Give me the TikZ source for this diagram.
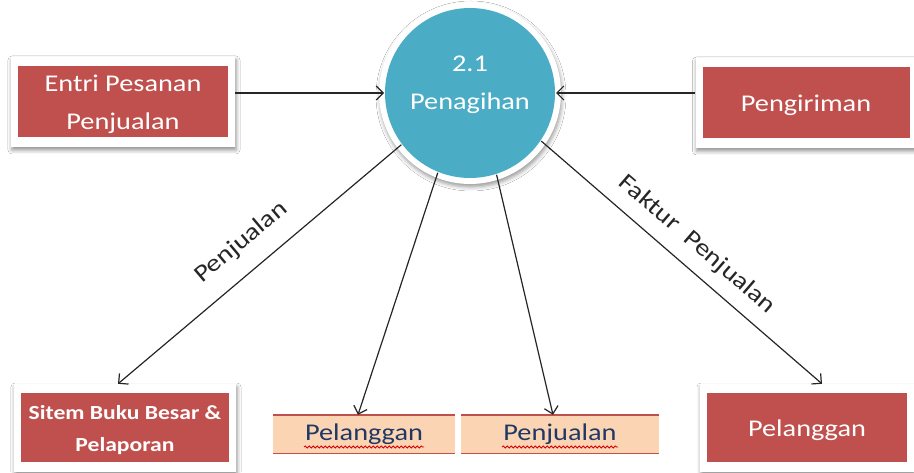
\documentclass[tikz,border=0pt]{standalone}
\usepackage{fontspec}
\setmainfont[FakeStretch=1.18]{Carlito}
\usepackage{xcolor}
\usetikzlibrary{arrows.meta,shadows.blur,decorations.pathmorphing}
\definecolor{entred}{HTML}{C0504D}
\definecolor{procblue}{HTML}{4BACC6}
\definecolor{peach}{HTML}{FBD4B4}
\definecolor{navy}{HTML}{1F3864}

\begin{document}
\begin{tikzpicture}[x=1pt,y=1pt]%
  \tikzstyle{card}=[rectangle,fill=white,inner sep=0,text=white,align=center,
    font=\fontsize{24}{38}\selectfont,text depth=0pt,
    blur shadow={shadow xshift=1pt,shadow yshift=-3pt,shadow blur radius=4pt,shadow opacity=45},
    path picture={\fill[entred] ([shift={(7pt,10pt)}]path picture bounding box.south west)
      rectangle ([shift={(-7pt,-9pt)}]path picture bounding box.north east);}]
  \tikzstyle{proc}=[circle,fill=white,minimum size=182,inner sep=0,outer sep=-5pt,
    text=white,align=center,font=\fontsize{24}{38}\selectfont,text depth=20pt,
    blur shadow={shadow xshift=1pt,shadow yshift=-3pt,shadow blur radius=4pt,shadow opacity=40},
    path picture={\fill[procblue] (path picture bounding box.center) circle (85pt);}]
  \tikzstyle{stor}=[rectangle,fill=peach,minimum height=38,inner sep=0,text=navy,
    font=\fontsize{24}{28}\selectfont]
  \tikzstyle{storln}=[entred,line width=1.4pt]
  \tikzstyle{wavy}=[red!85!black,line width=.8pt,decorate,
    decoration={snake,amplitude=1.1pt,segment length=4pt}]
  \tikzstyle{flow}=[black!85,line width=1.2pt,-{Straight Barb[length=7pt,width=14pt]}]
  \tikzstyle{lbl}=[text=black!85,font=\fontsize{24}{28}\selectfont]
  \fill[white] (0,0) rectangle (914,472);
  \useasboundingbox (0,0) rectangle (914,472);
  \node(pen)[proc] at (470,379) {2.1\\Penagihan};
  \node(entri)[card,minimum width=224,minimum height=90,text depth=-7pt] at (123,370) {Entri Pesanan\\Penjualan};
  \node(kirim)[card,minimum width=221,minimum height=90] at (806,369) {Pengiriman};
  \node(sitem)[card,minimum width=222,minimum height=88,text depth=-7pt,
    font=\bfseries\fontsize{20}{32}\selectfont] at (125,44) {Sitem Buku Besar \&\\Pelaporan};
  \node(plg)[card,minimum width=214,minimum height=88] at (807,44) {Pelanggan};
  \node(pel)[stor,minimum width=182] at (364,38) {Pelanggan};
  \node(pjl)[stor,minimum width=198] at (560,38) {Penjualan};
  \draw[storln] (pel.north west) -- (pel.north east) (pel.south west) -- (pel.south east);
  \draw[storln] (pjl.north west) -- (pjl.north east) (pjl.south west) -- (pjl.south east);
  \draw[wavy] ([xshift=-60pt,yshift=-13pt]pel.center) -- ([xshift=60pt,yshift=-13pt]pel.center);
  \draw[wavy] ([xshift=-58pt,yshift=-13pt]pjl.center) -- ([xshift=58pt,yshift=-13pt]pjl.center);
  \draw[flow] (entri.east |- pen) -- (pen);
  \draw[flow] (kirim.west |- pen) -- (pen);
  \draw[flow] (pen.217) -- ([xshift=-7pt]sitem.north)
    node[lbl,midway,sloped,above=14pt]{Penjualan};
  \draw[flow] (pen.248) -- ([xshift=-6pt]pel.north);
  \draw[flow] (pen.288) -- ([xshift=-7pt]pjl.north);
  \draw[flow] (pen.326) -- ([xshift=15pt]plg.north)
    node[lbl,midway,sloped,above=9pt]{Faktur~~Penjualan};
\end{tikzpicture}
\end{document}
